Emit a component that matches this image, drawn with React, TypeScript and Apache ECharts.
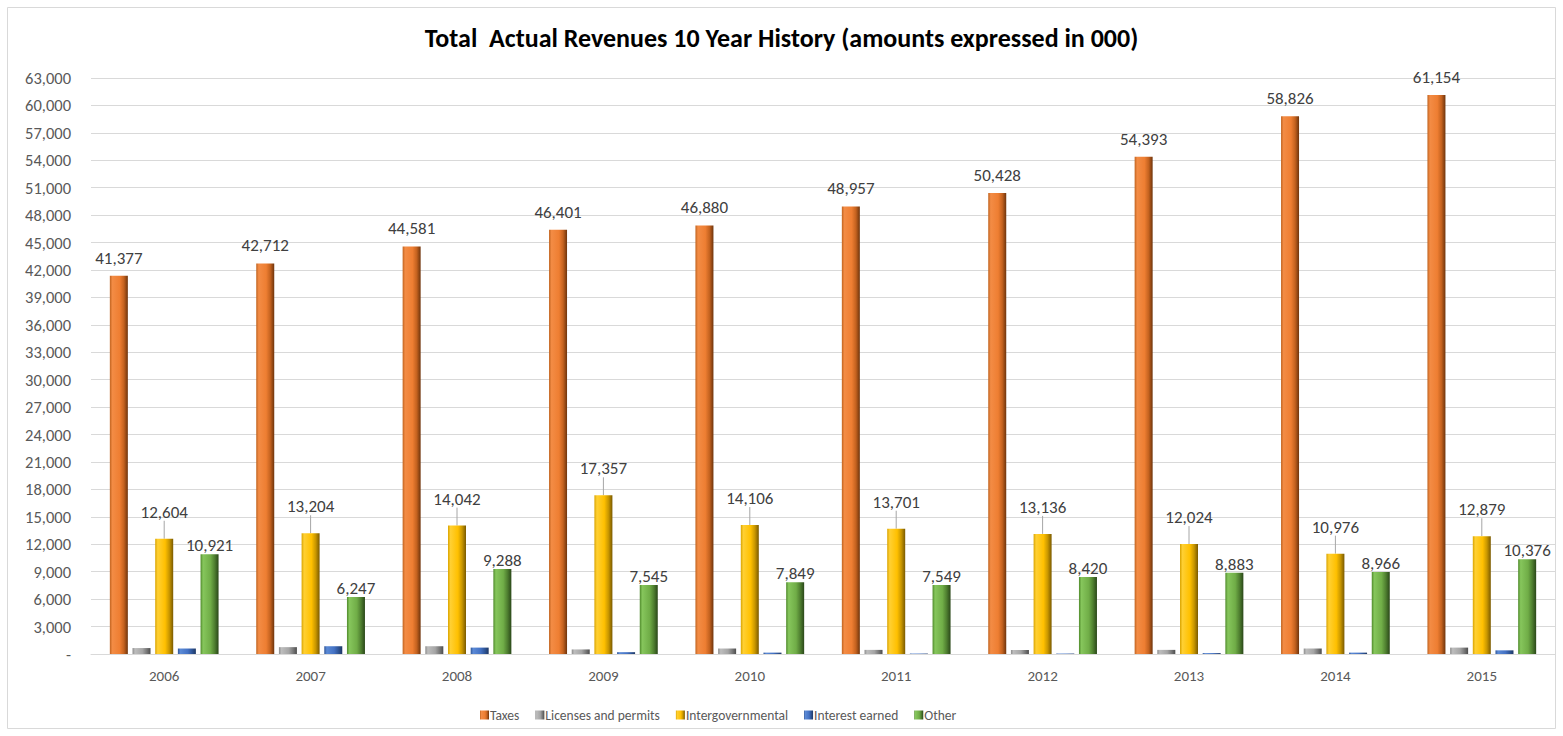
import React, { useEffect, useRef } from "react";
import * as echarts from "echarts";

const years = ["2006", "2007", "2008", "2009", "2010", "2011", "2012", "2013", "2014", "2015"];
const taxes = [41377, 42712, 44581, 46401, 46880, 48957, 50428, 54393, 58826, 61154];
const licenses = [650, 750, 850, 500, 600, 450, 450, 450, 600, 700];
const intergovernmental = [12604, 13204, 14042, 17357, 14106, 13701, 13136, 12024, 10976, 12879];
const interest = [600, 850, 700, 200, 150, 50, 50, 100, 150, 400];
const other = [10921, 6247, 9288, 7545, 7849, 7549, 8420, 8883, 8966, 10376];

const FONT = "Carlito, 'Open Sans', 'Noto Sans', sans-serif";

function grad(c: string[]) {
  return new echarts.graphic.LinearGradient(0, 0, 1, 0, [
    { offset: 0, color: c[0] },
    { offset: 0.14, color: c[1] },
    { offset: 0.55, color: c[2] },
    { offset: 0.78, color: c[3] },
    { offset: 1, color: c[4] },
  ]);
}

const fmt = (v: number) => (v === 0 ? "-" : v.toLocaleString("en-US"));

export default function App() {
  const ref = useRef<HTMLDivElement>(null);
  useEffect(() => {
    const chart = echarts.init(ref.current!, null, { renderer: "svg" });
    const labelStyle = { fontFamily: FONT, fontSize: 17, color: "#404040" };
    chart.setOption({
      animation: false,
      backgroundColor: "#ffffff",
      textStyle: { fontFamily: FONT },
      title: {
        text: "Total  Actual Revenues 10 Year History (amounts expressed in 000)",
        left: "center",
        top: 20,
        textStyle: { fontFamily: FONT, fontSize: 26, fontWeight: "bold", color: "#000000" },
      },
      graphic: [
        {
          type: "rect",
          shape: { x: 7.5, y: 7.5, width: 1548, height: 721 },
          style: { fill: "none", stroke: "#d9d9d9", lineWidth: 1 },
          silent: true,
        },
      ],
      legend: {
        left: 475,
        top: 703,
        itemWidth: 9,
        itemHeight: 9,
        itemGap: 16,
        icon: "rect",
        textStyle: { fontFamily: FONT, fontSize: 13.5, color: "#595959", padding: [0, 0, 0, -4] },
        data: ["Taxes", "Licenses and permits", "Intergovernmental", "Interest earned", "Other"],
      },
      grid: { left: 91, right: 8, top: 78, bottom: 82, containLabel: false },
      xAxis: {
        type: "category",
        data: years,
        axisLine: { lineStyle: { color: "#d9d9d9" } },
        axisTick: { show: false },
        axisLabel: { fontFamily: FONT, fontSize: 15, color: "#595959", margin: 14 },
      },
      yAxis: {
        type: "value",
        min: 0,
        max: 63000,
        interval: 3000,
        axisLine: { show: false },
        axisTick: { show: false },
        splitLine: { lineStyle: { color: "#d9d9d9" } },
        axisLabel: { fontFamily: FONT, fontSize: 16.5, color: "#595959", margin: 20, formatter: fmt },
      },
      series: [
        {
          name: "Taxes",
          type: "bar",
          data: taxes,
          barWidth: 18,
          barGap: "26%",
          itemStyle: { color: grad(["#c0631f", "#f38c45", "#ee7e32", "#c4621f", "#6e340c"]) },
          label: { show: true, position: "top", distance: 9, formatter: (p: any) => fmt(p.value), ...labelStyle },
        },
        {
          name: "Licenses and permits",
          type: "bar",
          data: licenses,
          barWidth: 18,
          barGap: "26%",
          itemStyle: { color: grad(["#8c8c8c", "#bdbdbd", "#a5a5a5", "#7a7a7a", "#4d4d4d"]) },
        },
        {
          name: "Intergovernmental",
          type: "bar",
          data: intergovernmental,
          barWidth: 18,
          barGap: "26%",
          itemStyle: { color: grad(["#d9a300", "#ffd033", "#ffc000", "#c99700", "#7a5a00"]) },
          label: { show: true, position: "top", distance: 4, formatter: (p: any) => fmt(p.value), ...labelStyle },
          labelLayout: { dy: -14 },
          labelLine: { show: true, lineStyle: { color: "#a6a6a6", width: 1 } },
        },
        {
          name: "Interest earned",
          type: "bar",
          data: interest,
          barWidth: 18,
          barGap: "26%",
          itemStyle: { color: grad(["#2f5597", "#5b8ad6", "#4472c4", "#2f5597", "#1f3864"]) },
        },
        {
          name: "Other",
          type: "bar",
          data: other,
          barWidth: 18,
          barGap: "26%",
          itemStyle: { color: grad(["#4f8a2b", "#86c65c", "#70ad47", "#4f7f30", "#2a4719"]) },
          label: { show: true, position: "top", distance: 0, formatter: (p: any) => fmt(p.value), ...labelStyle },
        },
      ],
    });
    return () => chart.dispose();
  }, []);
  return (
    <div
      ref={ref}
      style={{ position: "absolute", left: 0, top: 0, width: 1563, height: 736 }}
    />
  );
}
